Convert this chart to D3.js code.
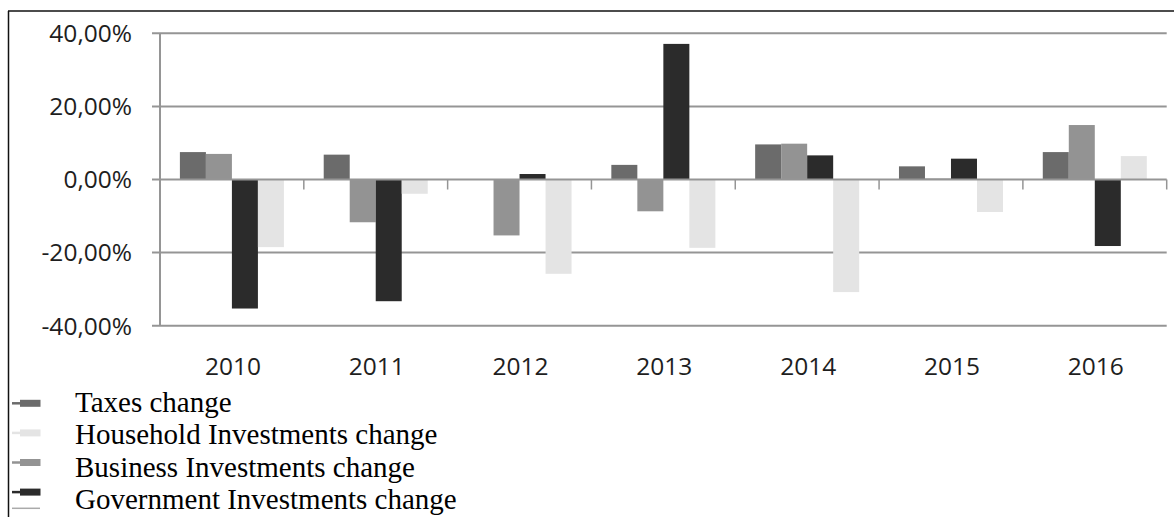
<!DOCTYPE html>
<html><head><meta charset="utf-8">
<script src="https://cdn.jsdelivr.net/npm/d3@7"></script>
<style>body{margin:0;background:#fff}svg{display:block}</style>
</head><body>
<svg id="c" width="1174" height="517"></svg>
<script>
const years = ["2010","2011","2012","2013","2014","2015","2016"];
// bar order within each year group
const taxes      = [7.5, 6.8, 0.0, 4.0, 9.6, 3.6, 7.5];
const business   = [7.0, -11.7, -15.3, -8.7, 9.8, 0.3, 14.9];
const government = [-35.3, -33.3, 1.5, 37.1, 6.6, 5.7, -18.2];
const household  = [-18.5, -3.9, -25.8, -18.7, -30.8, -8.9, 6.4];
const yTicks = [-40, -20, 0, 20, 40];
const legendLabels = ["Taxes change","Household Investments change","Business Investments change","Government Investments change"];

const colors = {taxes:"#6b6b6b", business:"#939393", government:"#2b2b2b", household:"#e4e4e4"};
const barSeries = [
  {key:"taxes", values:taxes},
  {key:"business", values:business},
  {key:"government", values:government},
  {key:"household", values:household}
];
const legendKeys = ["taxes","household","business","government"];

const svg = d3.select("#c");
const L = 160, R = 1166.7, T = 33.3, B = 325.7;
const x = d3.scaleBand().domain(years).range([L, R]).paddingInner(0).paddingOuter(0);
const inner = d3.scaleBand().domain(barSeries.map(s=>s.key)).range([0, x.bandwidth()]).paddingOuter(0.765).paddingInner(0);
const y = d3.scaleLinear().domain([-40, 40]).range([B, T]);

// frame
svg.append("line").attr("x1",8).attr("x2",1174).attr("y1",11).attr("y2",11).attr("stroke","#111").attr("stroke-width",1.5);
svg.append("line").attr("x1",8.5).attr("x2",8.5).attr("y1",11).attr("y2",517).attr("stroke","#111").attr("stroke-width",1.5);

const gridColor = "#959595";
// gridlines (non-zero)
svg.append("g").selectAll("line").data(yTicks.filter(d=>d!==0)).join("line")
  .attr("x1", L-8).attr("x2", R).attr("y1", d=>y(d)).attr("y2", d=>y(d))
  .attr("stroke", gridColor).attr("stroke-width", 2);

// bars
const gBars = svg.append("g");
barSeries.forEach(s => {
  gBars.append("g").selectAll("rect").data(years.map((yr,i)=>({yr, v:s.values[i]}))).join("rect")
    .attr("x", d => x(d.yr) + inner(s.key))
    .attr("width", inner.bandwidth())
    .attr("y", d => y(Math.max(0, d.v)))
    .attr("height", d => Math.abs(y(d.v) - y(0)))
    .attr("fill", colors[s.key]);
});

// y axis line
svg.append("line").attr("x1",L).attr("x2",L).attr("y1",T).attr("y2",B).attr("stroke",gridColor).attr("stroke-width",2);
// zero axis
svg.append("line").attr("x1",L-8).attr("x2",R).attr("y1",y(0)).attr("y2",y(0)).attr("stroke",gridColor).attr("stroke-width",2);
svg.append("g").selectAll("line").data(years).join("line")
  .attr("x1", d=>x(d)+x.bandwidth()).attr("x2", d=>x(d)+x.bandwidth())
  .attr("y1", y(0)).attr("y2", y(0)+10).attr("stroke", gridColor).attr("stroke-width", 1.5);

// y labels
const fmt = d => d3.format(".2f")(d).replace(".", ",").replace("\u2212", "-") + "%";
svg.append("g").selectAll("text").data(yTicks).join("text")
  .attr("x", 132).attr("y", d=>y(d)).attr("dy","0.36em")
  .attr("text-anchor","end").attr("font-family","'Open Sans', sans-serif").attr("font-size",24.5)
  .attr("fill","#1e1e1e").text(fmt);

// x labels
svg.append("g").selectAll("text").data(years).join("text")
  .attr("x", d=>x(d)+x.bandwidth()/2+1).attr("y", 375)
  .attr("text-anchor","middle").attr("font-family","'Open Sans', sans-serif").attr("font-size",24.5)
  .attr("fill","#1e1e1e").text(d=>d);

// legend
const lg = svg.append("g");
legendKeys.forEach((k,i) => {
  const my = 403.3 + i*29.6;
  lg.append("line").attr("x1",12).attr("x2",40).attr("y1",my).attr("y2",my).attr("stroke",colors[k]).attr("stroke-width",2.5);
  lg.append("rect").attr("x",20).attr("y",my-3.5).attr("width",20.5).attr("height",7).attr("fill",colors[k]);
  lg.append("text").attr("x",75).attr("y",411.7 + i*32.4)
    .attr("font-family","'Liberation Serif', 'Times New Roman', serif").attr("font-size",29)
    .attr("fill","#000").text(legendLabels[i]);
});
lg.append("line").attr("x1",12).attr("x2",40).attr("y1",508.3).attr("y2",508.3).attr("stroke","#aaa").attr("stroke-width",1.5);
</script>
</body></html>
